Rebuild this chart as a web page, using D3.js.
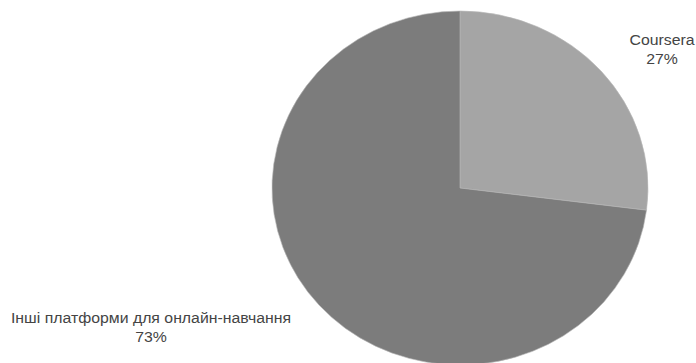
<!DOCTYPE html>
<html>
<head>
<meta charset="utf-8">
<script src="https://cdn.jsdelivr.net/npm/d3@7"></script>
<style>
  body { margin: 0; background: #fff; }
  text { font-family: "Liberation Sans", Arial, sans-serif; fill: #444; }
</style>
</head>
<body>
<svg></svg>
<script>
// Chart data
const labels = ["Coursera", "Інші платформи для онлайн-навчання"];
const values = [27, 73];
const colors = ["#a5a5a5", "#7c7c7c"];

const width = 696;
const height = 363;

const svg = d3.select("svg")
    .attr("width", width)
    .attr("height", height);

// Source image is stretched a bit horizontally, so scale the pie and labels
const stretch = 1.07;
const cx = 460, cy = 188;
const ry = 177, rx = 188;

const pie = d3.pie().sort(null).value(d => d.value);
const arc = d3.arc().innerRadius(0).outerRadius(ry);

const data = labels.map((l, i) => ({ label: l, value: values[i], color: colors[i] }));

const g = svg.append("g")
    .attr("transform", `translate(${cx},${cy}) scale(${rx / ry},1)`);

g.selectAll("path")
    .data(pie(data))
    .enter().append("path")
    .attr("d", arc)
    .attr("fill", d => d.data.color)
    .attr("stroke", "#b8b8b8")
    .attr("stroke-width", 0.6);

// Labels outside the pie
const labelPos = [[662, 45], [151, 323]];
const lbl = svg.append("g")
    .selectAll("text")
    .data(data)
    .enter().append("text")
    .attr("text-anchor", "middle")
    .attr("font-size", 14.8)
    .attr("transform", (d, i) => `translate(${labelPos[i][0]},${labelPos[i][1]}) scale(${stretch},1)`);

lbl.append("tspan")
    .attr("x", 0)
    .text(d => d.label);
lbl.append("tspan")
    .attr("x", 0)
    .attr("dy", 19.5)
    .text(d => d.value + "%");
</script>
</body>
</html>
